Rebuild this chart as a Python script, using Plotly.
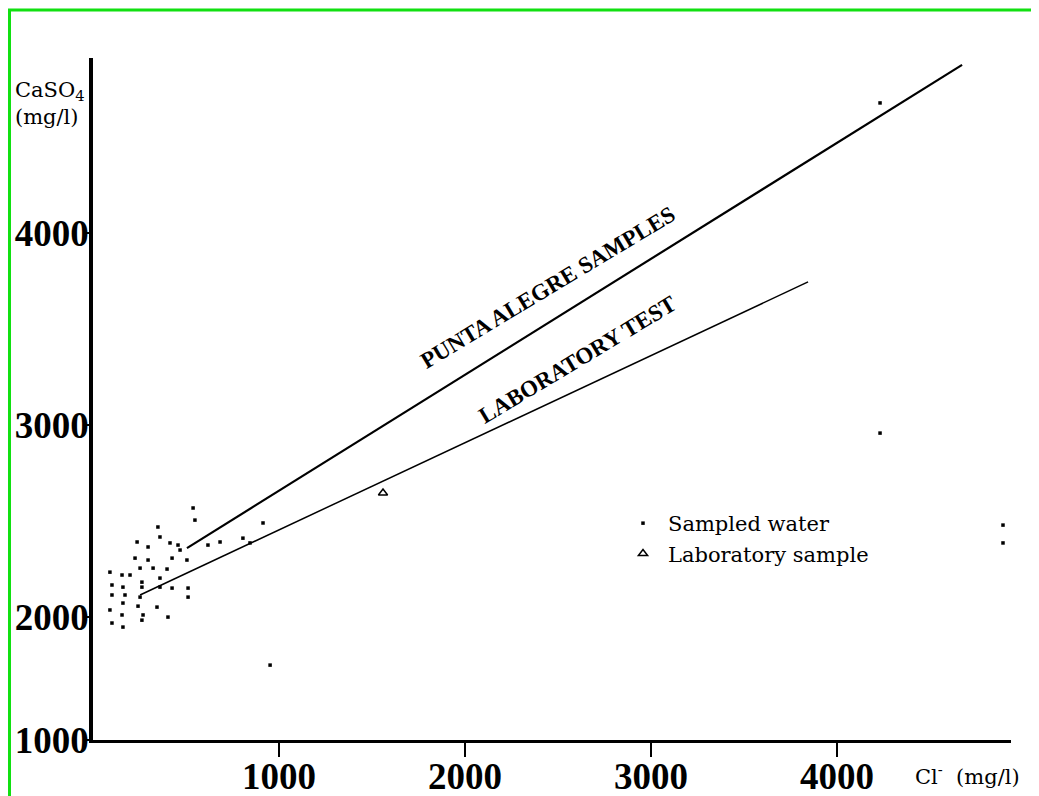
import plotly.graph_objects as go

# ---- data ----
sampled_x = [538, 548, 349, 360, 237, 296, 414, 457, 468, 226, 296, 425, 505, 618, 683,
             253, 323, 398, 91, 156, 199, 102, 161, 263, 263, 360, 360, 425, 511, 511,
             102, 172, 253, 161, 242, 344, 91, 156, 269, 403, 102, 161, 263, 914, 844,
             806, 4231, 952, 4231, 4892, 4892]
sampled_y = [2568, 2505, 2469, 2417, 2391, 2365, 2386, 2375, 2349, 2307, 2297, 2307, 2297, 2375, 2391,
             2255, 2255, 2250, 2234, 2219, 2219, 2167, 2156, 2182, 2156, 2203, 2156, 2151, 2151, 2104,
             2115, 2115, 2104, 2073, 2057, 2052, 2037, 2011, 2011, 2000, 1969, 1948, 1984, 2490, 2386,
             2411, 4677, 1750, 2958, 2479, 2386]
lab_x = [1559]
lab_y = [2646]

punta_x = [505, 4672]
punta_y = [2359, 4875]
labline_x = [253, 3844]
labline_y = [2115, 3745]

x_ticks = [1000, 2000, 3000, 4000]
y_tickvals = [1360, 2000, 3000, 4000]
y_ticktext = ["1000", "2000", "3000", "4000"]

fig = go.Figure()
fig.add_trace(go.Scatter(x=punta_x, y=punta_y, mode="lines",
                         line=dict(color="black", width=2.2), showlegend=False, hoverinfo="skip"))
fig.add_trace(go.Scatter(x=labline_x, y=labline_y, mode="lines",
                         line=dict(color="black", width=1.5), showlegend=False, hoverinfo="skip"))
fig.add_trace(go.Scatter(x=sampled_x, y=sampled_y, mode="markers", name="Sampled water",
                         legendgroup="a",
                         marker=dict(symbol="square", size=3.5, color="black")))
fig.add_trace(go.Scatter(x=lab_x, y=lab_y, mode="markers", name="Laboratory sample",
                         legendgroup="b",
                         marker=dict(symbol="triangle-up-open", size=8, color="black",
                                     line=dict(width=1.5, color="black"))))

serif = "Liberation Serif"
wide_serif = "DejaVu Serif"

fig.update_xaxes(range=[0, 4935], tickvals=x_ticks, showgrid=False, zeroline=False,
                 automargin=False,
                 showline=True, linecolor="black", linewidth=3,
                 ticks="outside", ticklen=14, tickwidth=2, tickcolor="black",
                 ticklabelstandoff=-12,
                 tickfont=dict(family=serif, size=37, color="black", weight="bold"))
fig.update_yaxes(range=[1360, 4911], tickvals=y_tickvals, ticktext=y_ticktext,
                 showgrid=False, zeroline=False, automargin=False,
                 showline=True, linecolor="black", linewidth=3.5,
                 ticks="outside", ticklen=3, tickwidth=2, tickcolor="black",
                 ticklabelstandoff=-10,
                 tickfont=dict(family=serif, size=37, color="black", weight="bold"))

fig.add_annotation(x=2446, y=3714, text="PUNTA ALEGRE SAMPLES", showarrow=False,
                   textangle=-31, font=dict(family=serif, size=23, color="black", weight="bold"))
fig.add_annotation(x=2607, y=3339, text="LABORATORY TEST", showarrow=False,
                   textangle=-31, font=dict(family=serif, size=23, color="black", weight="bold"))

fig.add_annotation(xref="paper", yref="paper", x=(913 - 93) / 918, y=(740 - 775) / 682,
                   xanchor="left", yanchor="middle", showarrow=False,
                   text="Cl<sup>-</sup>  (mg/l)", font=dict(family=wide_serif, size=21, color="black"))
fig.add_annotation(xref="paper", yref="paper", x=(13 - 93) / 918, y=(740 - 103) / 682,
                   xanchor="left", yanchor="middle", showarrow=False, align="left",
                   text="CaSO<sub>4</sub><br>(mg/l)", font=dict(family=wide_serif, size=21, color="black"))

# green frame
fig.add_shape(type="line", xref="paper", yref="paper", x0=(9.5 - 93) / 918, x1=(9.5 - 93) / 918,
              y0=(740 - 800) / 682, y1=(740 - 10) / 682, line=dict(color="#11e011", width=3))
fig.add_shape(type="line", xref="paper", yref="paper", x0=(8 - 93) / 918, x1=(1045 - 93) / 918,
              y0=(740 - 10) / 682, y1=(740 - 10) / 682, line=dict(color="#11e011", width=3))

# page body adds an 8px margin, so the figure is 8px smaller and shifted
fig.update_layout(
    width=1031, height=788,
    margin=dict(l=85, r=28, t=50, b=56, autoexpand=False),
    paper_bgcolor="white", plot_bgcolor="white",
    showlegend=True,
    legend=dict(x=(618 - 93) / 918, y=(740 - 503) / 682, xanchor="left", yanchor="top",
                bgcolor="rgba(0,0,0,0)", font=dict(family=wide_serif, size=21, color="black"),
                traceorder="grouped", tracegroupgap=0, itemwidth=40),
)

fig.write_html("out.html")
